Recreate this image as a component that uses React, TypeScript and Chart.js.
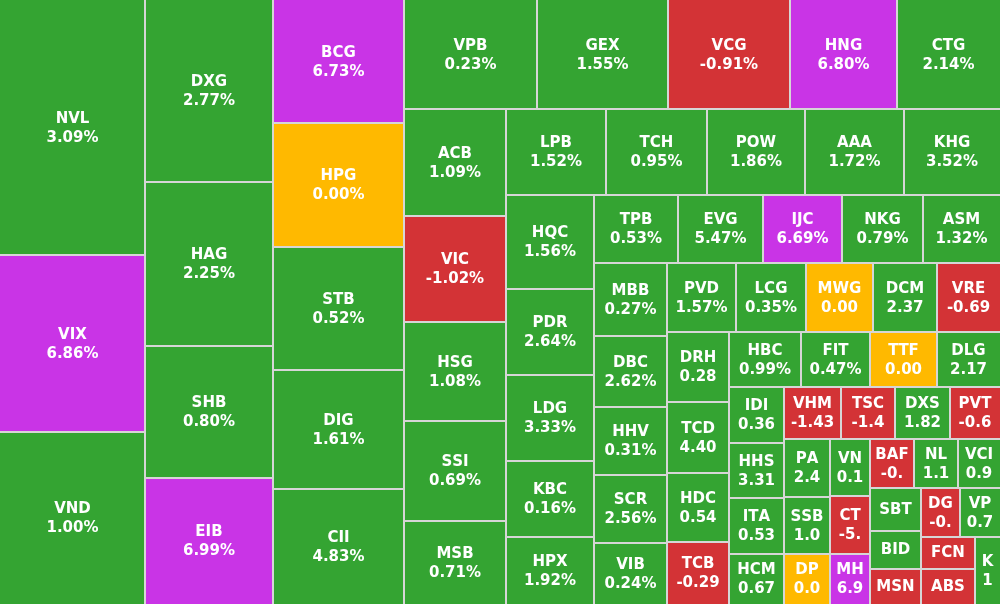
import React, { useEffect, useRef } from 'react';
import { Chart, DatasetController, Element, registerables } from 'chart.js';

// ---------------- data ----------------
const tickers = [
  'NVL', 'VIX', 'VND', 'DXG', 'HAG', 'SHB', 'EIB', 'BCG', 'HPG', 'STB', 'DIG', 'CII',
  'VPB', 'GEX', 'VCG', 'HNG', 'CTG', 'ACB', 'VIC', 'HSG', 'SSI', 'MSB',
  'LPB', 'TCH', 'POW', 'AAA', 'KHG', 'HQC', 'PDR', 'LDG', 'KBC', 'HPX',
  'TPB', 'EVG', 'IJC', 'NKG', 'ASM', 'MBB', 'DBC', 'HHV', 'SCR', 'VIB',
  'PVD', 'LCG', 'MWG', 'DCM', 'VRE', 'DRH', 'TCD', 'HDC', 'TCB',
  'HBC', 'FIT', 'TTF', 'DLG', 'IDI', 'HHS', 'ITA', 'HCM',
  'VHM', 'TSC', 'DXS', 'PVT', 'PAN', 'SSB', 'DPM', 'VNM', 'CTD', 'MHC',
  'BAF', 'NLG', 'VCI', 'SBT', 'BID', 'MSN', 'DGC', 'VPG', 'FCN', 'ABS', 'KDH',
];

// relative size of each cell (trading value weight)
const weights = [
  36975, 25665, 24940, 23296, 20992, 16896, 16200, 16170, 16160, 16150, 15589, 15065,
  14430, 14159, 13291, 11555, 11230, 10965, 10812, 10130, 10125, 8497,
  8650, 8737, 8477, 8564, 8304, 8181, 7525, 7525, 6694, 5819,
  5695, 5763, 5390, 5458, 5255, 5344, 5183, 4964, 4928, 4453,
  4775, 4809, 4603, 4397, 4328, 4371, 4402, 4278, 3813,
  3960, 3795, 3685, 3493, 3136, 3025, 3108, 2775,
  2993, 2835, 2861, 2651, 2616, 2594, 2275, 2288, 2349, 2025,
  2134, 2134, 2037, 2193, 1964, 1760, 1911, 1960, 1739, 1846, 1709,
];

// % price change
const changes = [
  3.09, 6.86, 1.0, 2.77, 2.25, 0.8, 6.99, 6.73, 0.0, 0.52, 1.61, 4.83,
  0.23, 1.55, -0.91, 6.8, 2.14, 1.09, -1.02, 1.08, 0.69, 0.71,
  1.52, 0.95, 1.86, 1.72, 3.52, 1.56, 2.64, 3.33, 0.16, 1.92,
  0.53, 5.47, 6.69, 0.79, 1.32, 0.27, 2.62, 0.31, 2.56, 0.24,
  1.57, 0.35, 0.0, 2.37, -0.69, 0.28, 4.4, 0.54, -0.29,
  0.99, 0.47, 0.0, 2.17, 0.36, 3.31, 0.53, 0.67,
  -1.43, -1.41, 1.82, -0.62, 2.42, 1.03, 0.0, 0.14, -5.26, 6.93,
  -0.47, 1.13, 0.92, 0.55, 0.41, -0.63, -0.38, 0.73, -0.85, -1.52, 1.05,
];

const AREA_W = 1000;
const AREA_H = 604;

const COLORS = {
  up: '#34a432',
  down: '#d33336',
  ceiling: '#c934e6',
  flat: '#ffb900',
  gap: '#d6d6d6',
  text: '#ffffff',
};
const FONT = 'bold 15px "DejaVu Sans", Verdana, sans-serif';

function colorFor(chg: number): string {
  if (chg >= 6.5) return COLORS.ceiling;
  if (chg > 0) return COLORS.up;
  if (chg < 0) return COLORS.down;
  return COLORS.flat;
}

type Rect = { x0: number; y0: number; x1: number; y1: number };

// squarified layout: strip along the shorter side, grow a strip while the
// aspect ratio of its last member keeps improving
function squarify(values: number[], x0: number, y0: number, x1: number, y1: number): Rect[] {
  const out: Rect[] = [];
  const n = values.length;
  let i = 0;
  while (i < n) {
    const w = x1 - x0;
    const h = y1 - y0;
    let rest = 0;
    for (let k = i; k < n; k++) rest += values[k];
    const scale = (w * h) / rest;
    const vertical = w >= h;
    const side = vertical ? h : w;
    let total = values[i] * scale;
    let j = i + 1;
    while (j < n) {
      const last = values[j - 1] * scale;
      const t0 = total / side;
      const l0 = last / t0;
      const r0 = Math.max(t0 / l0, l0 / t0);
      const nt = total + values[j] * scale;
      const t1 = nt / side;
      const l1 = last / t1;
      const r1 = Math.max(t1 / l1, l1 / t1);
      if (r1 > r0) break;
      total = nt;
      j++;
    }
    const thick = total / side;
    let pos = vertical ? y0 : x0;
    for (let m = i; m < j; m++) {
      const len = (values[m] * scale) / thick;
      if (vertical) out.push({ x0, y0: pos, x1: x0 + thick, y1: pos + len });
      else out.push({ x0: pos, y0, x1: pos + len, y1: y0 + thick });
      pos += len;
    }
    if (vertical) x0 += thick;
    else y0 += thick;
    i = j;
  }
  return out;
}

function truncate(ctx: CanvasRenderingContext2D, s: string, avail: number): string {
  let t = s;
  while (t.length > 0 && ctx.measureText(t).width > avail) t = t.slice(0, -1);
  return t;
}

class HeatCell extends Element {
  static id = 'heatcell';
  static defaults = {};

  draw(ctx: CanvasRenderingContext2D) {
    const e: any = this;
    const w = e.right - e.left;
    const h = e.bottom - e.top;
    ctx.save();
    ctx.fillStyle = COLORS.gap;
    ctx.fillRect(e.left, e.top, w, h);
    ctx.fillStyle = e.fill;
    ctx.fillRect(e.inLeft, e.inTop, e.inRight - e.inLeft, e.inBottom - e.inTop);

    ctx.font = FONT;
    (ctx as any).fontKerning = 'none';
    ctx.fillStyle = COLORS.text;
    ctx.textAlign = 'center';
    ctx.textBaseline = 'middle';
    const cx = (e.left + e.right) / 2;
    const cy = (e.top + e.bottom) / 2;
    const fw = e.fitW;
    const fh = e.fitH;
    const name = truncate(ctx, e.name, fw - 10.5);
    const pct = e.chg.toFixed(2);
    let val = pct + '%';
    if (ctx.measureText(val).width + 16.5 > fw) val = truncate(ctx, pct, fw - 12.5);
    if (fh >= 46) {
      if (name) ctx.fillText(name, cx, cy - 8.5);
      if (val) ctx.fillText(val, cx, cy + 10.5);
    } else if (fh >= 20) {
      if (name) ctx.fillText(name, cx, cy + 0.5);
    }
    ctx.restore();
  }

  inRange() {
    return false;
  }
}

class HeatmapController extends DatasetController {
  static id = 'stockheatmap';
  static defaults = { datasetElementType: false, dataElementType: 'heatcell' };
  static overrides = { scales: { x: { type: 'linear' }, y: { type: 'linear' } } };

  update(mode: any) {
    const meta: any = (this as any)._cachedMeta;
    this.updateElements(meta.data, 0, meta.data.length, mode);
  }

  updateElements(elements: any[], start: number, count: number, _mode: any) {
    const self: any = this;
    const ds: any = self.getDataset();
    const xs: any = self._cachedMeta.xScale;
    const ys: any = self._cachedMeta.yScale;
    const vals = ds.data.map((d: any) => d.weight);
    const rects = squarify(vals, xs.min, ys.min, xs.max, ys.max);
    for (let i = start; i < start + count; i++) {
      const r = rects[i];
      const d = ds.data[i];
      const px0 = xs.getPixelForValue(r.x0);
      const px1 = xs.getPixelForValue(r.x1);
      const py0 = ys.getPixelForValue(r.y0);
      const py1 = ys.getPixelForValue(r.y1);
      const left = Math.round(px0);
      const right = Math.round(px1);
      const top = Math.round(py0);
      const bottom = Math.round(py1);
      const atL = r.x0 <= xs.min + 0.5;
      const atR = r.x1 >= xs.max - 0.5;
      const atT = r.y0 <= ys.min + 0.5;
      const atB = r.y1 >= ys.max - 0.5;
      Object.assign(elements[i], {
        x: (left + right) / 2,
        y: (top + bottom) / 2,
        left,
        right,
        top,
        bottom,
        fitW: Math.abs(px1 - px0),
        fitH: Math.abs(py1 - py0),
        inLeft: left + (atL ? 0 : 1),
        inRight: right - (atR ? 0 : 1),
        inTop: top + (atT ? 0 : 1),
        inBottom: bottom - (atB ? 0 : 1),
        fill: colorFor(d.chg),
        name: d.name,
        chg: d.chg,
      });
    }
  }

  draw() {
    const self: any = this;
    const ctx = self.chart.ctx;
    for (const el of self._cachedMeta.data) el.draw(ctx);
  }
}

Chart.register(...registerables, HeatCell, HeatmapController);

export default function App() {
  const canvasRef = useRef<HTMLCanvasElement | null>(null);

  useEffect(() => {
    document.body.style.margin = '0';
    const canvas = canvasRef.current;
    if (!canvas) return;
    const items = tickers.map((name, i) => ({ name, weight: weights[i], chg: changes[i] }));
    const chart = new Chart(canvas, {
      type: 'stockheatmap' as any,
      data: { datasets: [{ data: items as any, parsing: false } as any] },
      options: {
        animation: false,
        responsive: false,
        maintainAspectRatio: false,
        events: [],
        layout: { padding: 0 },
        plugins: { legend: { display: false }, tooltip: { enabled: false }, title: { display: false } },
        scales: {
          x: { type: 'linear', min: 0, max: AREA_W, display: false },
          y: { type: 'linear', min: 0, max: AREA_H, reverse: true, display: false },
        },
      } as any,
    });
    return () => chart.destroy();
  }, []);

  return (
    <div style={{ width: AREA_W, height: AREA_H, background: '#ffffff' }}>
      <canvas ref={canvasRef} width={AREA_W} height={AREA_H} style={{ display: 'block' }} />
    </div>
  );
}
